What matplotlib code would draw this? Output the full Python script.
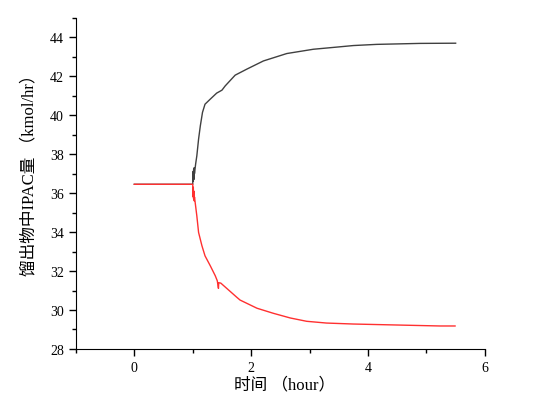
import numpy as np
import matplotlib.pyplot as plt
from matplotlib.ticker import MultipleLocator

plt.rcParams['font.family'] = ['Liberation Serif', 'Noto Sans CJK SC']

# 馏出物中IPAC量 - 上升曲线 (黑)
t_up = [0, 1.0, 1.005, 1.01, 1.015, 1.02, 1.025, 1.03, 1.05, 1.07, 1.10, 1.13, 1.167,
        1.21, 1.30, 1.41, 1.50, 1.556, 1.726, 1.926, 2.21, 2.61, 3.065, 3.465, 3.75,
        4.15, 4.89, 5.50]
y_up = [36.45, 36.45, 37.1, 36.6, 37.2, 36.7, 37.3, 37.0, 37.5, 37.91, 38.77, 39.45, 40.14,
        40.56, 40.82, 41.13, 41.28, 41.50, 42.05, 42.36, 42.78, 43.16, 43.38, 43.49, 43.57,
        43.63, 43.68, 43.69]

# 下降曲线 (红)
t_down = [0, 1.0, 1.005, 1.01, 1.015, 1.02, 1.025, 1.03, 1.07, 1.10, 1.157, 1.21, 1.30,
          1.385, 1.42, 1.44, 1.445, 1.48, 1.755, 1.81, 2.10, 2.38, 2.67, 2.95, 3.29,
          3.75, 4.49, 5.23, 5.49]
y_down = [36.45, 36.45, 35.8, 36.3, 35.7, 36.1, 35.6, 35.8, 34.83, 33.98, 33.30, 32.78, 32.27,
          31.76, 31.5, 31.11, 31.4, 31.38, 30.65, 30.51, 30.09, 29.83, 29.59, 29.42, 29.33,
          29.28, 29.23, 29.18, 29.18]

fig = plt.figure(figsize=(5.46, 4.06), dpi=100)
ax = fig.add_axes([0.139, 0.138, 0.749, 0.816])

ax.plot(t_up, y_up, color='#404040', lw=1.0)
ax.plot(t_down, y_down, color='#ff3030', lw=1.0)

ax.set_xlim(-1, 6)
ax.set_ylim(28, 45)
ax.xaxis.set_major_locator(MultipleLocator(2))
ax.xaxis.set_minor_locator(MultipleLocator(1))
ax.yaxis.set_major_locator(MultipleLocator(2))
ax.yaxis.set_minor_locator(MultipleLocator(1))
ax.tick_params(which='major', direction='out', length=5, width=1, labelsize=10)
ax.tick_params(which='minor', direction='out', length=3, width=1)

ax.spines['top'].set_visible(False)
ax.spines['right'].set_visible(False)

ax.set_xlabel('时间 （hour）', fontsize=12, labelpad=2)
ax.set_ylabel('馏出物中IPAC量 （kmol/hr）', fontsize=12, labelpad=9)
ax.xaxis.label.set_x(0.51)
ax.yaxis.label.set_y(0.54)

fig.savefig('out.png', dpi=100)
